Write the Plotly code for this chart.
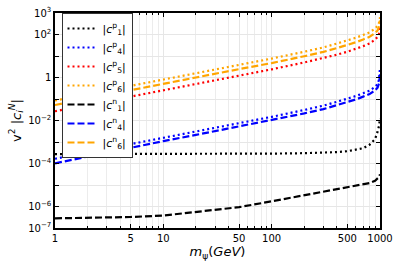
import plotly.graph_objects as go

m_psi = [1, 2, 5, 10, 20, 50, 100, 200, 300, 400, 500, 600, 700, 800, 900, 950, 980, 1000]

c1p = [2.75e-4, 2.75e-4, 2.82e-4, 2.82e-4, 2.82e-4, 2.82e-4, 2.88e-4, 3.02e-4, 3.16e-4, 3.39e-4,
       3.72e-4, 4.27e-4, 5.13e-4, 7.41e-4, 1.35e-3, 3.02e-3, 5.62e-3, 1.26e-2]
c4p = [1.66e-4, 3.24e-4, 8.32e-4, 1.62e-3, 3.16e-3, 7.76e-3, 0.0148, 0.0309, 0.049, 0.0741,
       0.102, 0.138, 0.186, 0.245, 0.363, 0.49, 0.794, 2.82]
c5p = [0.0269, 0.0525, 0.129, 0.257, 0.501, 1.26, 2.40, 5.01, 7.94, 11.5,
       15.8, 21.4, 28.8, 38.0, 57.5, 77.6, 107, 200]
c6p = [0.085, 0.166, 0.427, 0.832, 1.62, 3.98, 7.59, 15.8, 25.1, 38.0,
       52.5, 70.8, 95.5, 126, 186, 251, 355, 631]
c1n = [2.82e-7, 2.95e-7, 3.24e-7, 3.80e-7, 5.50e-7, 9.33e-7, 1.74e-6, 3.31e-6, 4.79e-6, 6.31e-6,
       7.59e-6, 8.91e-6, 1.05e-5, 1.23e-5, 1.58e-5, 1.91e-5, 2.34e-5, 3.16e-5]
c4n = [1.02e-4, 2.09e-4, 5.62e-4, 1.10e-3, 2.14e-3, 5.37e-3, 0.0102, 0.0214, 0.0339, 0.0513,
       0.0708, 0.0955, 0.129, 0.170, 0.251, 0.339, 0.537, 1.41]
c6n = [0.0525, 0.102, 0.263, 0.513, 1.0, 2.45, 4.68, 9.77, 15.5, 23.4,
       32.4, 43.7, 58.9, 77.6, 115, 155, 229, 447]

series = [
    ("|<i>c</i><sup>p</sup><sub>1</sub>|", c1p, "black", "dot"),
    ("|<i>c</i><sup>p</sup><sub>4</sub>|", c4p, "#0000ff", "dot"),
    ("|<i>c</i><sup>p</sup><sub>5</sub>|", c5p, "#ff0000", "dot"),
    ("|<i>c</i><sup>p</sup><sub>6</sub>|", c6p, "#ffa500", "dot"),
    ("|<i>c</i><sup>n</sup><sub>1</sub>|", c1n, "black", "dash"),
    ("|<i>c</i><sup>n</sup><sub>4</sub>|", c4n, "#0000ff", "dash"),
    ("|<i>c</i><sup>n</sup><sub>6</sub>|", c6n, "#ffa500", "dash"),
]

x_tickvals = [1, 5, 10, 50, 100, 500, 1000]
x_ticktext = ["1", "5", "10", "50", "100", "500", "1000"]
x_minor = [2, 3, 4, 6, 7, 8, 9, 20, 30, 40, 60, 70, 80, 90, 200, 300, 400, 600, 700, 800, 900]
y_tickvals = [1e3, 1e2, 1e1, 1, 1e-1, 1e-2, 1e-3, 1e-4, 1e-5, 1e-6, 1e-7]
y_ticktext = ["10<sup>3</sup>", "10<sup>2</sup>", "", "1", "", "10<sup>−2</sup>", "",
              "10<sup>−4</sup>", "", "10<sup>−6</sup>", "10<sup>−7</sup>"]

dash_styles = {"dot": "2px,3px", "dash": "7px,3px"}

fig = go.Figure()
for name, vals, color, dash in series:
    fig.add_trace(go.Scatter(x=m_psi, y=vals, mode="lines", name=name,
                             line=dict(color=color, dash=dash_styles[dash], width=2.2)))

font = "DejaVu Sans"
fig.update_layout(
    width=399, height=266,
    margin=dict(l=55, r=16, t=6, b=38),
    paper_bgcolor="white", plot_bgcolor="white",
    font=dict(family=font, size=10, color="black"),
    showlegend=True,
    legend=dict(x=0.02, y=1.0, xanchor="left", yanchor="top",
                bgcolor="white", bordercolor="#333333", borderwidth=1,
                font=dict(size=11), tracegroupgap=0, itemwidth=30),
    xaxis=dict(type="log", range=[0, 3], tickvals=x_tickvals, ticktext=x_ticktext,
               ticks="inside", ticklen=4, tickcolor="black",
               showline=True, linecolor="black", linewidth=1.5, mirror="ticks",
               showgrid=True, gridcolor="#e6e6e6", gridwidth=1, zeroline=False,
               minor=dict(tickvals=x_minor, ticks="inside", ticklen=2.5, tickcolor="black",
                          showgrid=True, gridcolor="#ececec"),
               title=dict(text="<i>m</i><sub>ψ</sub>(<i>GeV</i>)", font=dict(size=13), standoff=4)),
    yaxis=dict(type="log", range=[-7, 3], tickvals=y_tickvals, ticktext=y_ticktext,
               ticks="inside", ticklen=4, tickcolor="black",
               showline=True, linecolor="black", linewidth=1.5, mirror="ticks",
               showgrid=True, gridcolor="#e6e6e6", gridwidth=1, zeroline=False,
               title=dict(text="v<sup>2</sup> |<i>c</i><sub><i>i</i></sub><sup><i>N</i></sup>|",
                          font=dict(size=13), standoff=4)),
)

fig.write_html("out.html", config={"displayModeBar": False},
               post_script="document.body.style.margin='0';document.body.style.overflow='hidden';")
